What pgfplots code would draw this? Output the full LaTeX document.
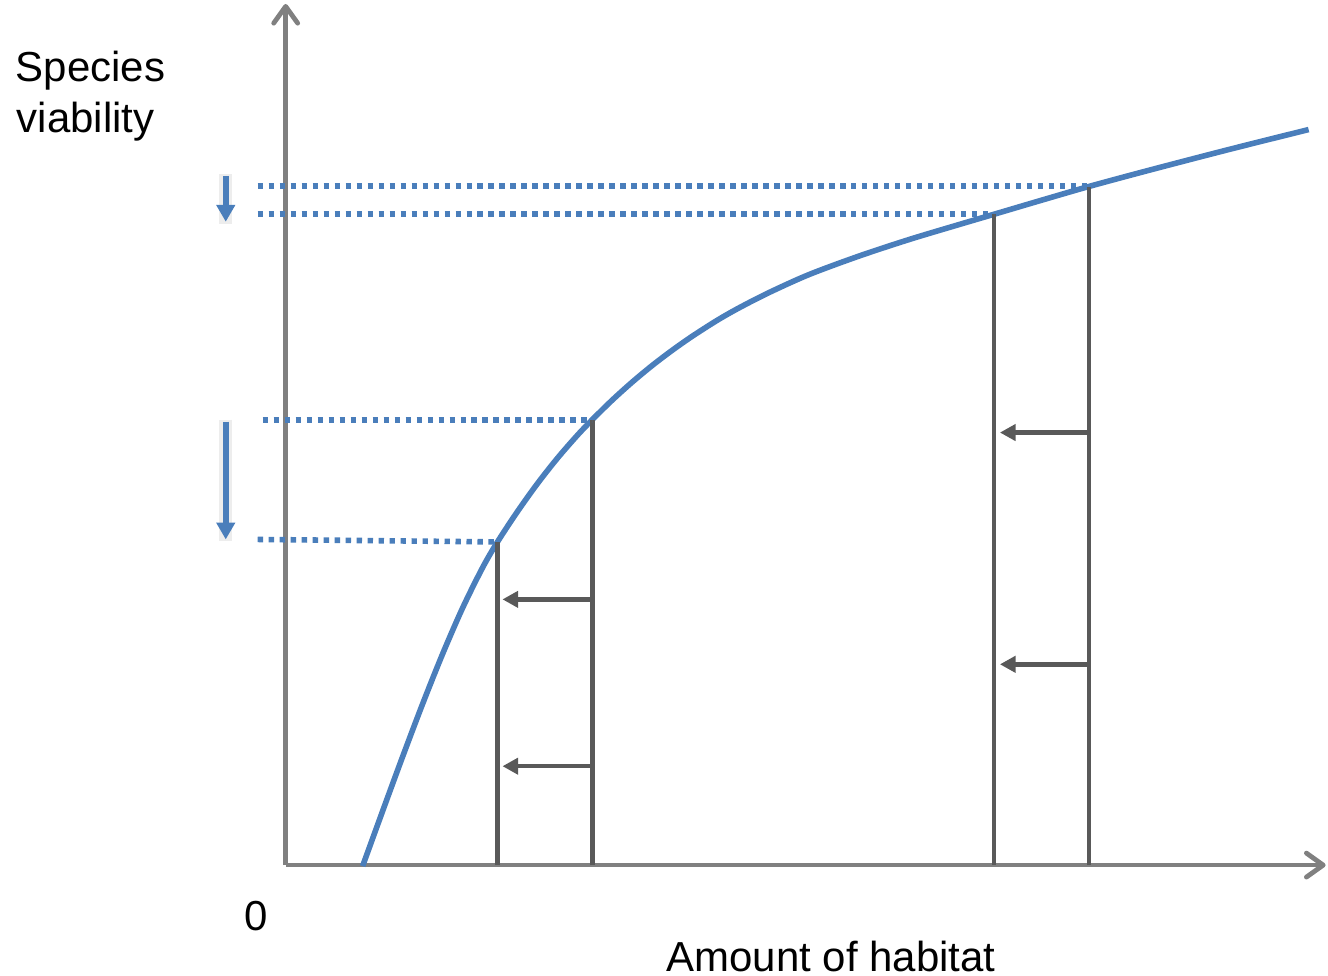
\documentclass[border=0pt]{standalone}
\usepackage{pgfplots}
\pgfplotsset{compat=1.18}
\usepackage{fontspec}
\setmainfont{Liberation Sans}
\usetikzlibrary{arrows.meta}

\definecolor{curveblue}{HTML}{4A7EBB}
\definecolor{axisgray}{HTML}{808080}
\definecolor{darkline}{HTML}{595959}

% coordinates are reference pixels: x = px, y = 977 - py
\begin{document}
\begin{tikzpicture}
\begin{axis}[
    x=0.25pt, y=0.25pt,
    xmin=286, xmax=1327,
    ymin=111, ymax=973,
    axis lines=left,
    ticks=none,
    clip=false,
    axis line style={draw=axisgray, line width=1.2pt,
        -{Straight Barb[length=4.2pt,width=6pt,round]}},
    font=\fontsize{10.5}{12.5}\selectfont,
]
% page frame
\path (axis cs:0,0) rectangle (axis cs:1328,977);

% viability curve
\addplot[curveblue, line width=1.4pt, smooth, no marks] coordinates {
    (363,110.0) (383,165.0) (403,219.4) (423,272.2) (443,322.2)
    (463,368.2) (483,408.6) (498,434.5) (518,464.9) (538,492.9)
    (558,518.3) (578,541.3) (593,557.0) (613,576.6) (633,594.6)
    (653,611.2) (673,626.4) (693,640.4) (718,656.4) (740,668.9)
    (770,684.2) (810,702.2) (860,720.7) (910,737.2) (960,752.2)
    (995,762.5) (1040,775.8) (1090,790.3) (1150,806.5) (1230,827.3)
    (1310,847.3)
};

% habitat levels
\addplot[darkline, line width=1.1pt, no marks] coordinates {(498,111) (498,434.5)};
\addplot[darkline, line width=1.1pt, no marks] coordinates {(593,111) (593,557)};
\addplot[darkline, line width=1.1pt, no marks] coordinates {(995,111) (995,762.5)};
\addplot[darkline, line width=1.1pt, no marks] coordinates {(1090,111) (1090,790.3)};

% habitat loss arrows
\pgfplotsset{lossarrow/.style={darkline, line width=1.1pt, no marks,
    -{Triangle[length=3.9pt,width=4pt]}}}
\addplot[lossarrow] coordinates {(593,377) (503,377)};
\addplot[lossarrow] coordinates {(593,210) (503,210)};
\addplot[lossarrow] coordinates {(1090,544) (1001,544)};
\addplot[lossarrow] coordinates {(1090,312) (1001,312)};

% dotted viability levels
\pgfplotsset{dotline/.style={curveblue, line width=1.4pt, no marks,
    dash pattern=on 1.35pt off 1.4pt}}
\addplot[dotline] coordinates {(258,791) (1090,791)};
\addplot[dotline] coordinates {(258,762.5) (995,762.5)};
\addplot[dotline] coordinates {(263,556.5) (593,556.5)};
\addplot[dotline] coordinates {(258,437) (498,434.5)};

% viability drop arrows (with soft glow)
\addplot[black!7, line width=3.2pt, no marks] coordinates {(226,803) (226,753)};
\addplot[black!7, line width=3.2pt, no marks] coordinates {(226,557) (226,435)};
\pgfplotsset{droparrow/.style={curveblue, line width=1.5pt, no marks,
    -{Triangle[length=4.2pt,width=4.5pt]}}}
\addplot[droparrow] coordinates {(226,801) (226,755)};
\addplot[droparrow] coordinates {(226,555) (226,437)};

% labels
\node[anchor=base west, inner sep=0pt] at (axis cs:15,895) {Species};
\node[anchor=base west, inner sep=0pt] at (axis cs:16,844) {viability};
\node[anchor=base, inner sep=0pt] at (axis cs:256,46) {0};
\node[anchor=base, inner sep=0pt] at (axis cs:832,4) {Amount of habitat};
\end{axis}
\end{tikzpicture}
\end{document}
